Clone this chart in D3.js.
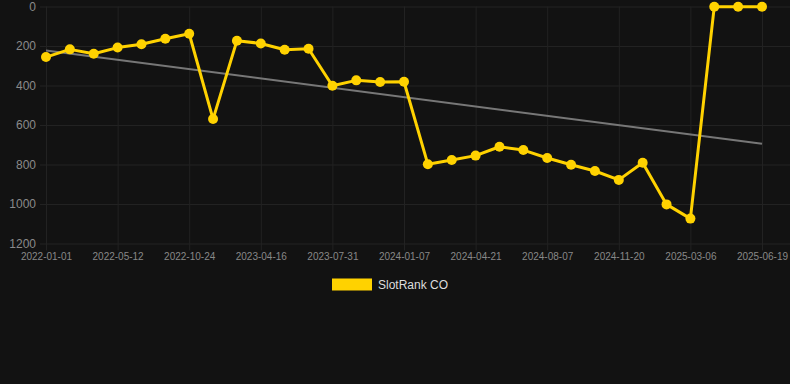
<!DOCTYPE html>
<html>
<head>
<meta charset="utf-8">
<script src="https://cdn.jsdelivr.net/npm/d3@7"></script>
<style>
  html, body { margin: 0; padding: 0; background: #121212; }
  svg { display: block; }
</style>
</head>
<body>
<svg id="chart" width="790" height="384"></svg>
<script>
// ---- data ----
const categories = [
  "2022-01-01","2022-02-14","2022-03-30","2022-05-12","2022-06-26","2022-08-10",
  "2022-10-24","2022-12-20","2023-02-17","2023-04-16","2023-05-24","2023-06-28",
  "2023-07-31","2023-09-22","2023-11-15","2024-01-07","2024-02-10","2024-03-16",
  "2024-04-21","2024-05-27","2024-07-02","2024-08-07","2024-09-12","2024-10-16",
  "2024-11-20","2024-12-28","2025-01-30","2025-03-06","2025-04-10","2025-05-15",
  "2025-06-19"
];
const rankValues = [
  256, 217, 239, 208, 191, 163, 138, 570, 173, 187, 219, 214,
  401, 374, 382, 381, 799, 777, 755, 710, 727, 767, 801, 833,
  878, 791, 1002, 1074, 1, 1, 1
];
const yTicks = [0, 200, 400, 600, 800, 1000, 1200];
const xTickLabels = [
  "2022-01-01","2022-05-12","2022-10-24","2023-04-16","2023-07-31","2024-01-07",
  "2024-04-21","2024-08-07","2024-11-20","2025-03-06","2025-06-19"
];
const seriesName = "SlotRank CO";

// ---- styling ----
const W = 790, H = 384;
const plot = { left: 40, right: 790, top: 6.5, bottom: 243.5 };
const font = "'Liberation Sans', Arial, Helvetica, sans-serif";
const gold = "#FFD200";
const gridColor = "#222222";

const svg = d3.select("#chart");
svg.append("rect").attr("width", W).attr("height", H).attr("fill", "#121212");

const x = d3.scalePoint().domain(categories).range([46, 762]);
const y = d3.scaleLinear().domain([0, 1200]).range([plot.top, plot.bottom]);

// horizontal grid + y labels
const yAxis = d3.axisLeft(y).tickValues(yTicks).tickFormat(d3.format("d"))
  .tickSize(-(plot.right - plot.left)).tickPadding(4);
const gy = svg.append("g").attr("transform", `translate(${plot.left},0)`).call(yAxis);
gy.select(".domain").remove();
gy.selectAll(".tick line").attr("stroke", gridColor).attr("stroke-width", 1);
gy.selectAll(".tick text")
  .attr("fill", "#8a8a8a").style("font-family", font).style("font-size", "12px")
  .attr("x", -4);

// vertical grid + x labels
const xAxis = d3.axisBottom(x).tickValues(xTickLabels).tickSize(0).tickPadding(0);
const gx = svg.append("g").attr("transform", `translate(0,${plot.bottom})`).call(xAxis);
gx.select(".domain").remove();
gx.selectAll(".tick line")
  .attr("y1", -(plot.bottom - plot.top)).attr("y2", 7)
  .attr("stroke", gridColor).attr("stroke-width", 1);
gx.selectAll(".tick text")
  .attr("fill", "#888888").style("font-family", font).style("font-size", "10px")
  .attr("y", 9).attr("dy", "0.71em");

// trend line (least squares over index)
const n = rankValues.length;
const idx = d3.range(n);
const mx = d3.mean(idx), my = d3.mean(rankValues);
const slope = d3.sum(idx, i => (i - mx) * (rankValues[i] - my)) / d3.sum(idx, i => (i - mx) ** 2);
const icpt = my - slope * mx;
svg.append("line")
  .attr("x1", x(categories[0])).attr("y1", y(icpt))
  .attr("x2", x(categories[n - 1])).attr("y2", y(icpt + slope * (n - 1)))
  .attr("stroke", "#777777").attr("stroke-width", 2);

// series line
const line = d3.line().x((d, i) => x(categories[i])).y(d => y(d));
svg.append("path").datum(rankValues)
  .attr("d", line).attr("fill", "none")
  .attr("stroke", gold).attr("stroke-width", 3).attr("stroke-linejoin", "round");

svg.append("g").selectAll("circle").data(rankValues).join("circle")
  .attr("cx", (d, i) => x(categories[i])).attr("cy", d => y(d))
  .attr("r", 5).attr("fill", gold);

// legend
const lg = svg.append("g");
lg.append("rect").attr("x", 332).attr("y", 278.5).attr("width", 40).attr("height", 12).attr("fill", gold);
lg.append("text").attr("x", 378).attr("y", 285).attr("dy", "0.35em")
  .attr("fill", "#dddddd").style("font-family", font).style("font-size", "12px")
  .text(seriesName);
</script>
</body>
</html>
